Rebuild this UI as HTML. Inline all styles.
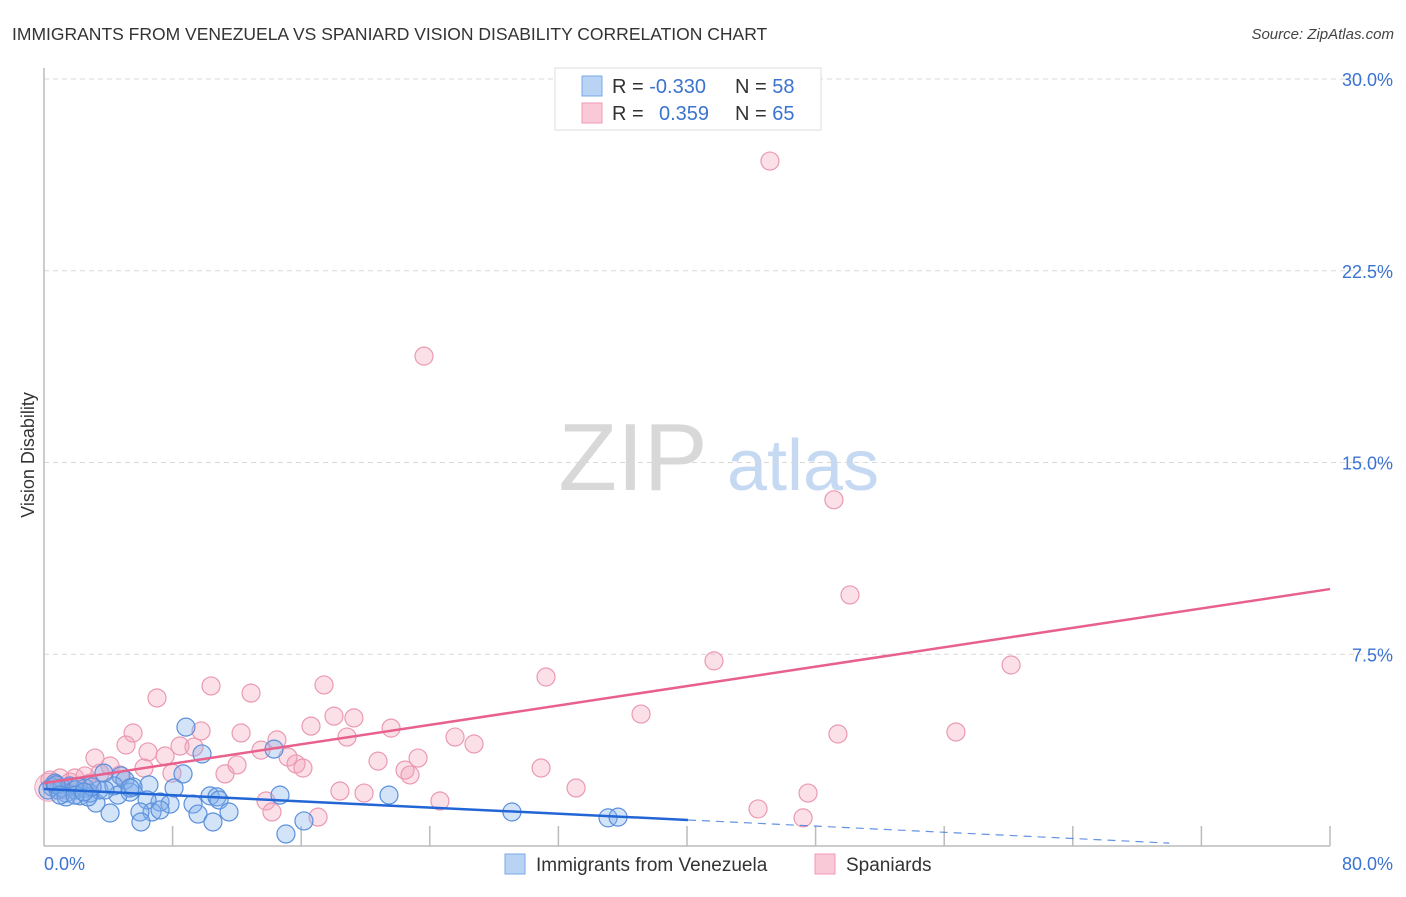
<!DOCTYPE html>
<html><head><meta charset="utf-8"><style>
body{margin:0;background:#fff;font-family:"Liberation Sans",sans-serif}
svg text{font-family:"Liberation Sans",sans-serif}
</style></head><body>
<svg id="chart" width="1406" height="892" viewBox="0 0 1406 892" xmlns="http://www.w3.org/2000/svg">
<text x="12" y="40" font-size="17.5" fill="#333">IMMIGRANTS FROM VENEZUELA VS SPANIARD VISION DISABILITY CORRELATION CHART</text>
<text x="1394" y="39" font-size="15" fill="#444" font-style="italic" text-anchor="end">Source: ZipAtlas.com</text>
<g>
<text x="633" y="490" font-size="96" fill="#d8d8d8" font-family="Liberation Serif, serif" text-anchor="middle">ZIP</text>
<text x="803" y="490" font-size="72" fill="#c6d9f2" text-anchor="middle">atlas</text>
</g>
<g id="grid"></g>
<g id="axes"></g>
<g id="pts"></g>
<g id="trend"></g>
<text transform="translate(34,455) rotate(-90)" font-size="18" fill="#333" text-anchor="middle">Vision Disability</text>
<g>
<rect x="555" y="68" width="266" height="62" fill="#fff" stroke="#ddd"/>
<rect x="582" y="76" width="20" height="20" fill="#b9d3f5" stroke="#7aa7e6"/>
<rect x="582" y="103" width="20" height="20" fill="#f9c9d7" stroke="#f09ab4"/>
<text x="612" y="93" font-size="20" fill="#333">R = <tspan fill="#3b73d1">-0.330</tspan></text>
<text x="735" y="93" font-size="20" fill="#333">N = <tspan fill="#3b73d1">58</tspan></text>
<text x="612" y="120" font-size="20" fill="#333">R = </text>
<text x="659" y="120" font-size="20" fill="#3b73d1">0.359</text>
<text x="735" y="120" font-size="20" fill="#333">N = <tspan fill="#3b73d1">65</tspan></text>
</g>
<g>
<rect x="505" y="854" width="20" height="20" fill="#b9d3f5" stroke="#7aa7e6"/>
<text x="536" y="871" font-size="19" fill="#333">Immigrants from Venezuela</text>
<rect x="815" y="854" width="20" height="20" fill="#f9c9d7" stroke="#f09ab4"/>
<text x="846" y="871" font-size="19" fill="#333">Spaniards</text>
</g>
</svg>
<script>
const yTicks=[7.5,15,22.5,30];
const yTickLabels=["7.5%","15.0%","22.5%","30.0%"];
const xTickLabels=["0.0%","80.0%"];
const pinkX=[45.16,23.64,49.14,50.14,41.68,60.16,31.23,37.14,56.73,49.39,7.03,10.39,12.88,17.42,18.04,19.28,21.59,16.61,12.26,5.54,9.77,8.46,9.33,5.10,3.17,6.47,7.53,13.50,14.49,15.18,15.68,16.11,18.85,20.78,23.27,22.46,25.57,26.75,30.92,33.10,22.77,11.26,12.01,7.96,6.22,4.11,2.55,1.62,0.68,0.37,18.41,19.91,24.63,13.81,14.18,17.05,44.42,47.53,47.22,1.31,1.00,1.93,2.86,3.48,4.73];
const pinkY=[26.79,19.16,13.54,9.82,7.24,7.08,6.61,5.16,4.46,4.38,5.79,6.26,5.98,6.30,5.08,5.01,4.61,4.69,4.42,4.42,4.50,3.91,3.87,3.95,3.44,3.68,3.52,3.75,4.15,3.48,3.21,3.05,4.26,3.32,3.44,2.97,4.26,3.99,3.05,2.27,2.78,2.82,3.17,2.85,3.05,3.13,2.74,2.50,2.39,2.58,2.15,2.07,1.76,1.76,1.33,1.13,1.45,2.07,1.10,2.19,2.66,2.66,2.46,2.85,2.78];
const blueX=[8.83,9.83,14.31,8.65,4.79,3.73,5.04,6.53,8.09,10.33,10.76,10.89,9.27,7.22,7.84,6.41,6.72,5.97,4.11,3.23,2.24,1.37,0.87,0.50,0.25,0.68,1.12,1.62,1.93,2.55,2.86,3.42,4.35,5.35,5.54,14.68,21.46,29.11,35.09,35.71,15.05,16.17,9.58,10.51,11.51,6.03,7.22,0.75,2.12,4.60,3.79,2.74,1.37,2.99,5.35,1.00,1.93,2.49];
const blueY=[4.65,3.60,3.79,2.82,2.74,2.85,2.58,2.39,2.27,1.96,1.92,1.80,1.64,1.72,1.64,1.80,1.33,1.33,1.29,1.68,1.96,2.07,2.19,2.31,2.19,2.46,2.27,2.35,2.19,2.27,2.07,2.19,2.35,2.11,2.31,1.99,1.99,1.33,1.10,1.13,0.47,0.98,1.25,0.94,1.33,0.94,1.41,2.39,2.31,1.99,2.19,1.92,1.92,2.31,2.27,1.99,1.99,2.11];
const pinkTrend=[2.46,10.05]; // y at x=0 and x=80
const blueTrend=[2.23,-0.19];
const blueSolidEnd=40.06, blueDashEnd=70;

const NS="http://www.w3.org/2000/svg";
const X0=44,X1=1330,Y0=846,Y1=79;
const sx=v=>X0+(X1-X0)*v/80;
const sy=v=>Y0-(Y0-Y1)*v/30;
function mk(tag,attrs,parent){const e=document.createElementNS(NS,tag);for(const k in attrs)e.setAttribute(k,attrs[k]);parent.appendChild(e);return e;}
const grid=document.getElementById('grid'),axes=document.getElementById('axes'),pts=document.getElementById('pts'),trend=document.getElementById('trend');
yTicks.forEach((t,i)=>{
 const l=mk('line',{x1:X0,x2:1393,y1:sy(t),y2:sy(t),stroke:'#d8d8d8','stroke-dasharray':'5,4'},grid);
 
 
 const tx=mk('text',{x:1393,y:sy(t)+7,'font-size':18,fill:'#3b73d1','text-anchor':'end'},axes);
 tx.textContent=yTickLabels[i];
 
 
});
const la=mk('line',{x1:X0,x2:X0,y1:68,y2:Y0,stroke:'#bbb','stroke-width':1.5},axes);


const ba=mk('line',{x1:X0,x2:X1,y1:Y0,y2:Y0,stroke:'#bbb','stroke-width':1.5},axes);


for(let v=8;v<=80;v+=8){
 const tk=mk('line',{x1:sx(v),x2:sx(v),y1:826,y2:Y0,stroke:'#bbb','stroke-width':1.5},axes);
 
 
}
const xl0=mk('text',{x:X0,y:870,'font-size':18,fill:'#3b73d1'},axes);xl0.textContent=xTickLabels[0];


const xl1=mk('text',{x:1393,y:870,'font-size':18,fill:'#3b73d1','text-anchor':'end'},axes);xl1.textContent=xTickLabels[1];


const big=mk('circle',{cx:sx(0.3),cy:sy(2.3),r:14,fill:'rgba(244,160,185,0.35)',stroke:'#efa3bb','stroke-width':1},pts);


pinkX.forEach((x,i)=>{
 const c=mk('circle',{cx:sx(x),cy:sy(pinkY[i]),r:9,fill:'rgba(244,160,185,0.33)',stroke:'#eb99b3','stroke-width':1.2},pts);
 
 
});
blueX.forEach((x,i)=>{
 const c=mk('circle',{cx:sx(x),cy:sy(blueY[i]),r:9,fill:'rgba(130,175,235,0.35)',stroke:'#5b90dc','stroke-width':1.2},pts);
 
 
});
const byAt=x=>blueTrend[0]+(blueTrend[1]-blueTrend[0])*x/80;
const pt=mk('line',{x1:sx(0),y1:sy(pinkTrend[0]),x2:sx(80),y2:sy(pinkTrend[1]),stroke:'#e8618c','stroke-width':2.5},trend);


const bt=mk('line',{x1:sx(0),y1:sy(byAt(0)),x2:sx(blueSolidEnd),y2:sy(byAt(blueSolidEnd)),stroke:'#2266d6','stroke-width':2.5},trend);


const bd=mk('line',{x1:sx(blueSolidEnd),y1:sy(byAt(blueSolidEnd)),x2:sx(blueDashEnd),y2:sy(byAt(blueDashEnd)),stroke:'#2266d6','stroke-width':1.2,'stroke-dasharray':'8,6','opacity':0.7},trend);


</script>
</body></html>
